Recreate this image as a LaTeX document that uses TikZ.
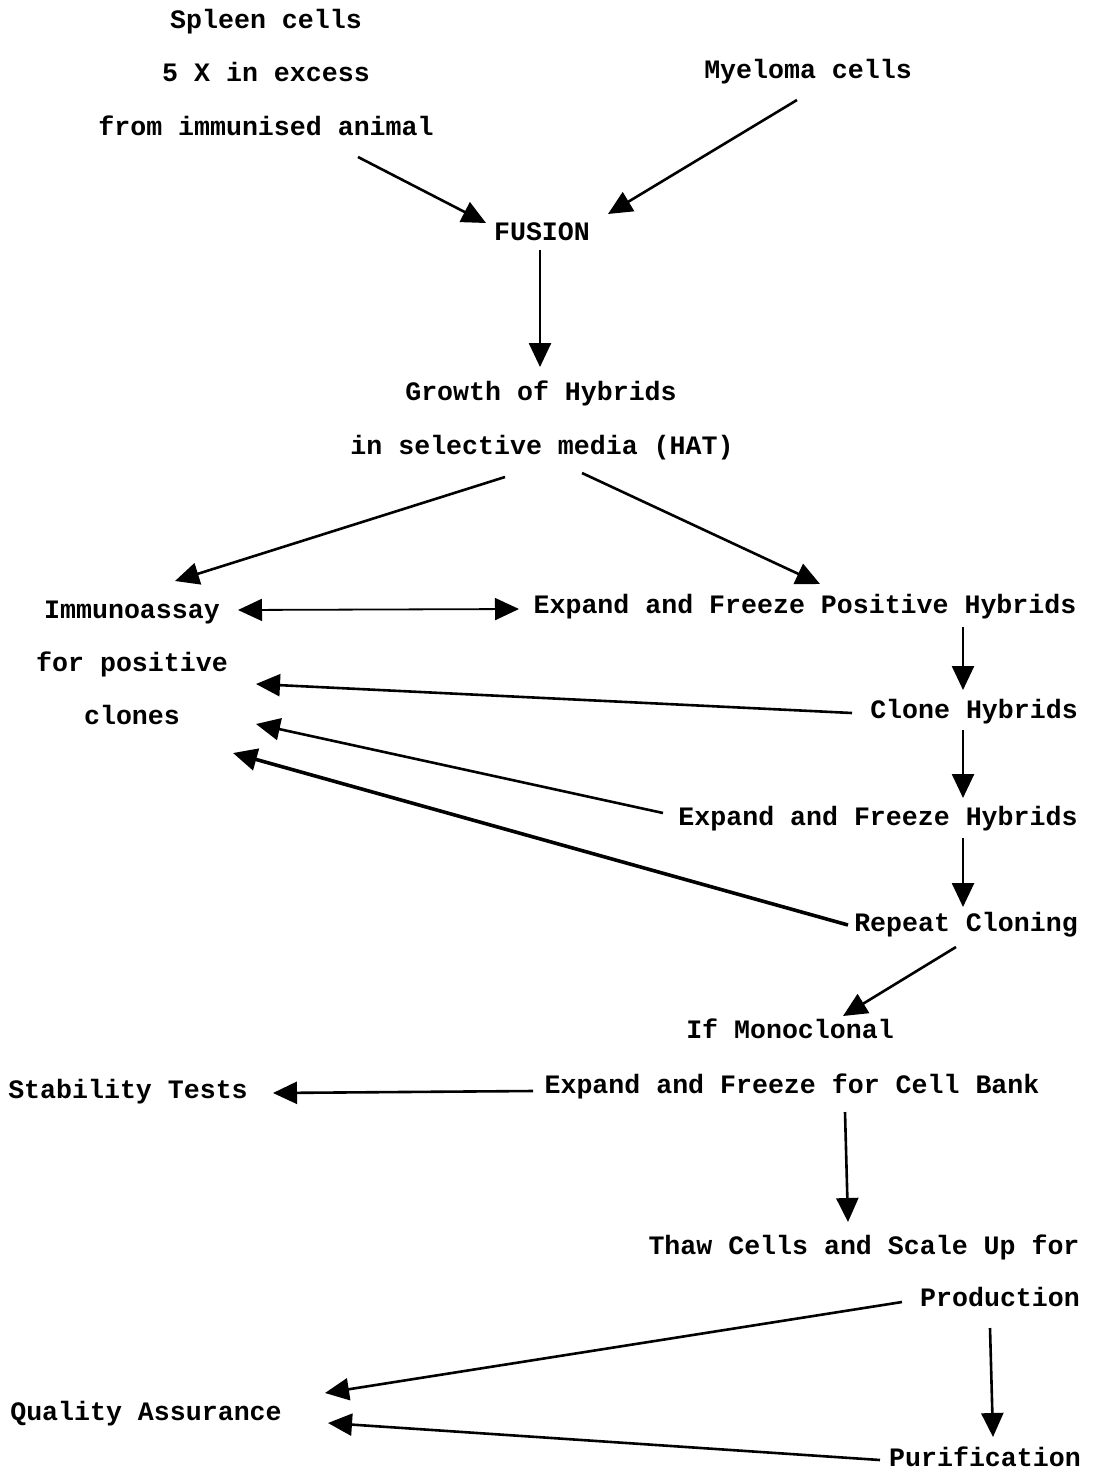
\documentclass[tikz,border=0pt]{standalone}
\usepackage{fontspec}
\setmonofont{Liberation Mono}
\usetikzlibrary{arrows.meta}
\begin{document}
\begin{tikzpicture}[x=0.5pt, y=-0.5pt,
    every node/.style={font=\ttfamily\bfseries\fontsize{13.3}{16}\selectfont, inner sep=1pt, anchor=base},
    flow/.style={line width=1.3pt, -{Triangle[length=12pt,width=11pt]}}]
  \useasboundingbox (0,0) rectangle (1096,1472);
  % text blocks
  \node (spleen1) at (266,28) {Spleen cells};
  \node (spleen2) at (266,81) {5 X in excess};
  \node (spleen3) at (266,135) {from immunised animal};
  \node (myeloma) at (808,78) {Myeloma cells};
  \node (fusion) at (542,240) {FUSION};
  \node (growth1) at (541,400) {Growth of Hybrids};
  \node (growth2) at (542,454) {in selective media (HAT)};
  \node (assay1) at (132,618) {Immunoassay};
  \node (assay2) at (132,671) {for positive};
  \node (assay3) at (132,724) {clones};
  \node (expandpos) at (805,613) {Expand and Freeze Positive Hybrids};
  \node (clone) at (974,718) {Clone Hybrids};
  \node (expand) at (878,825) {Expand and Freeze Hybrids};
  \node (repeat) at (966,931) {Repeat Cloning};
  \node (mono) at (790,1038) {If Monoclonal};
  \node (stability) at (128,1098) {Stability Tests};
  \node (bank) at (792,1093) {Expand and Freeze for Cell Bank};
  \node (thaw) at (864,1254) {Thaw Cells and Scale Up for};
  \node (production) at (1000,1306) {Production};
  \node (quality) at (146,1420) {Quality Assurance};
  \node (purify) at (985,1466) {Purification};
  % arrow ends
  \coordinate (s-out) at (358,157);   \coordinate (f-in1) at (486,223);
  \coordinate (m-out) at (797,100);   \coordinate (f-in2) at (608,214);
  \coordinate (f-out) at (540,250);   \coordinate (g-in) at (540,367);
  \coordinate (g-out1) at (505,477);  \coordinate (a-in) at (175,581);
  \coordinate (g-out2) at (582,473);  \coordinate (e-in) at (820,584);
  \coordinate (a-side) at (238,610);  \coordinate (e-side) at (519,609);
  \coordinate (e-down) at (963,627);  \coordinate (c-up) at (963,690);
  \coordinate (c-left) at (852,713);  \coordinate (a-in2) at (256,684);
  \coordinate (c-down) at (963,730);  \coordinate (x-up) at (963,798);
  \coordinate (x-left) at (663,813);  \coordinate (a-in3) at (256,724);
  \coordinate (x-down) at (963,838);  \coordinate (r-up) at (963,907);
  \coordinate (r-left) at (848,925);  \coordinate (a-in4) at (233,753);
  \coordinate (r-down) at (956,947);  \coordinate (mo-in) at (843,1016);
  \coordinate (b-left) at (533,1091); \coordinate (st-in) at (273,1093);
  \coordinate (b-down) at (845,1112); \coordinate (t-up) at (848,1222);
  \coordinate (p-left) at (902,1302); \coordinate (q-in1) at (325,1393);
  \coordinate (p-down) at (990,1328); \coordinate (pu-up) at (993,1437);
  \coordinate (pu-left) at (880,1460);\coordinate (q-in2) at (328,1423);
  % connectors
  \draw[flow] (s-out) -- (f-in1);
  \draw[flow] (m-out) -- (f-in2);
  \draw[flow] (f-out) -- (g-in);
  \draw[flow] (g-out1) -- (a-in);
  \draw[flow] (g-out2) -- (e-in);
  \draw[flow, {Triangle[length=12pt,width=11pt]}-{Triangle[length=12pt,width=11pt]}, line width=0.9pt] (a-side) -- (e-side);
  \draw[flow] (e-down) -- (c-up);
  \draw[flow] (c-left) -- (a-in2);
  \draw[flow] (c-down) -- (x-up);
  \draw[flow] (x-left) -- (a-in3);
  \draw[flow] (x-down) -- (r-up);
  \draw[flow, line width=1.8pt] (r-left) -- (a-in4);
  \draw[flow] (r-down) -- (mo-in);
  \draw[flow] (b-left) -- (st-in);
  \draw[flow] (b-down) -- (t-up);
  \draw[flow] (p-left) -- (q-in1);
  \draw[flow] (p-down) -- (pu-up);
  \draw[flow] (pu-left) -- (q-in2);
\end{tikzpicture}
\end{document}
